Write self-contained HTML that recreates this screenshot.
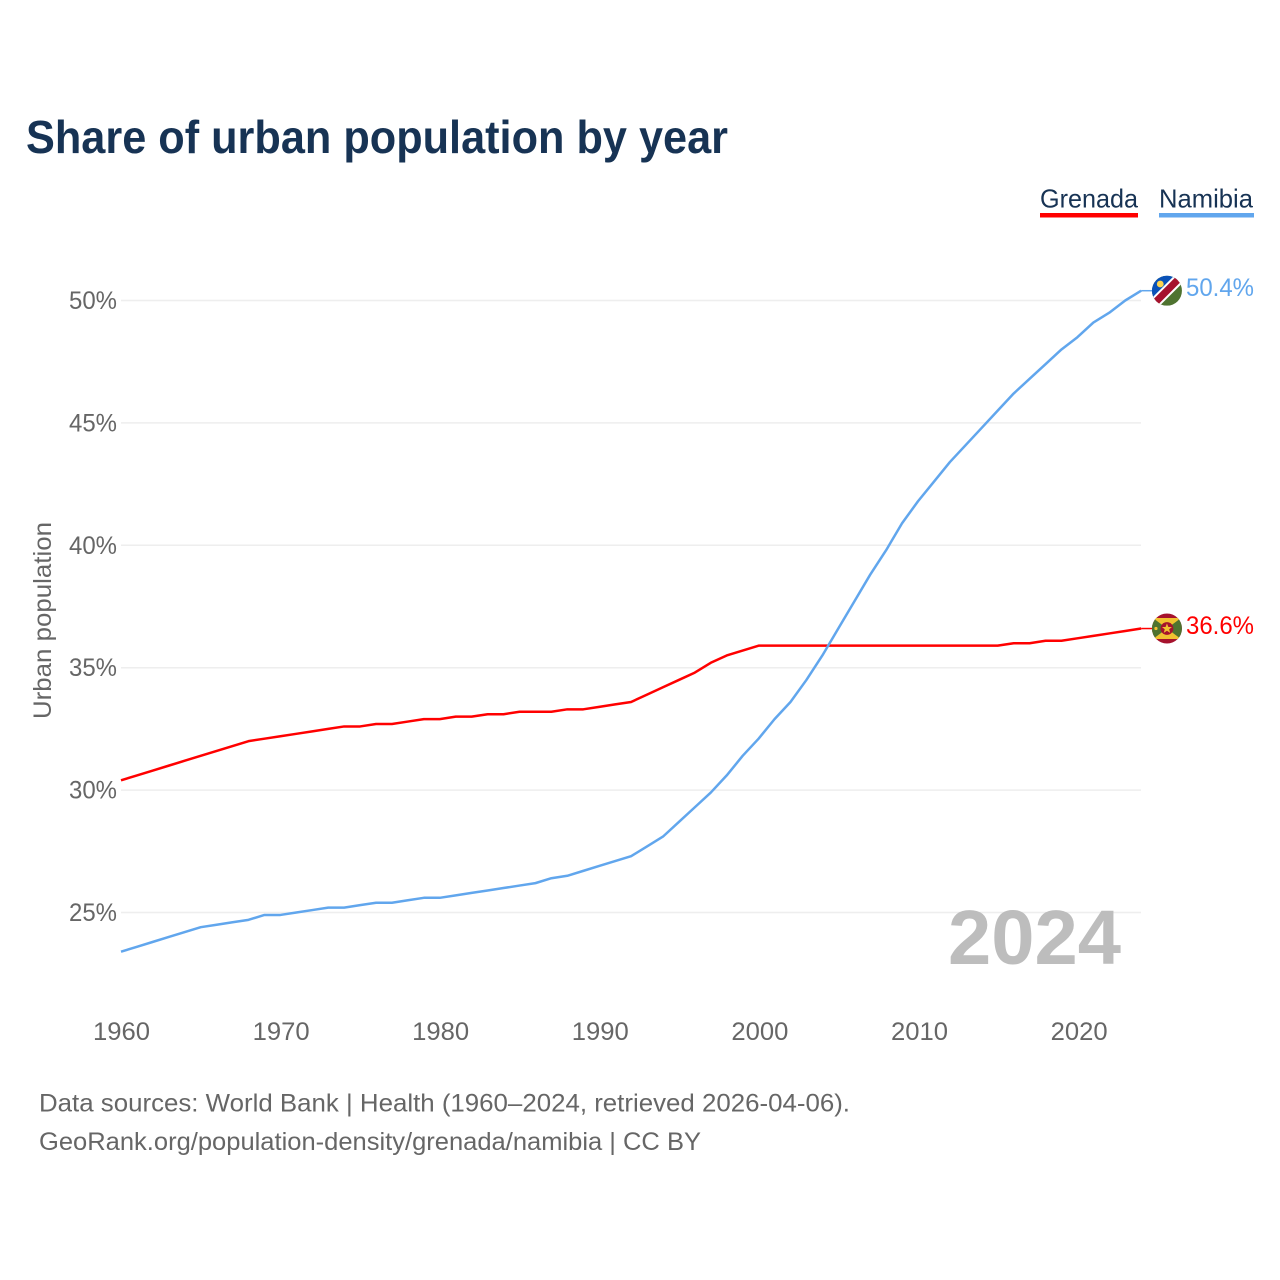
<!DOCTYPE html>
<html lang="en">
<head>
<meta charset="utf-8">
<title>Share of urban population by year</title>
<style>
html,body{margin:0;padding:0;background:#fff;}
body{width:1280px;height:1280px;overflow:hidden;}
svg{display:block;font-family:"Liberation Sans",sans-serif;}
</style>
</head>
<body>
<svg id="chart" xmlns="http://www.w3.org/2000/svg" width="1280" height="1280" viewBox="0 0 1280 1280">
  <defs>
    <clipPath id="clip-flag"><circle cx="0" cy="0" r="15"/></clipPath>
  </defs>
  <rect width="1280" height="1280" fill="#fff"/>
  <text x="26" y="153" font-size="46" font-weight="700" fill="#173354" textLength="702" lengthAdjust="spacingAndGlyphs">Share of urban population by year</text>

  <g>
    <g>
      <text x="1040" y="207.5" font-size="26" fill="#173354" textLength="98" lengthAdjust="spacingAndGlyphs">Grenada</text>
      <rect x="1040" y="213" width="98" height="4.5" fill="#ff0000"/>
    </g>
    <g>
      <text x="1159" y="207.5" font-size="26" fill="#173354" textLength="94" lengthAdjust="spacingAndGlyphs">Namibia</text>
      <rect x="1159" y="213" width="95" height="4.5" fill="#61a6ed"/>
    </g>
  </g>

  <g id="grid"></g>
  <g id="y-labels"></g>
  <g id="x-labels"></g>

  <text transform="translate(51,620.5) rotate(-90)" text-anchor="middle" font-size="25" fill="#666" textLength="197" lengthAdjust="spacingAndGlyphs">Urban population</text>

  <text id="year-watermark" x="948" y="964" font-size="77" font-weight="700" fill="#bdbdbd" textLength="173" lengthAdjust="spacingAndGlyphs">2024</text>

  <g id="series"></g>
  <g id="end-markers"></g>

  <g>
    <text x="39" y="1111.5" font-size="25" fill="#666" textLength="811" lengthAdjust="spacingAndGlyphs">Data sources: World Bank | Health (1960–2024, retrieved 2026-04-06).</text>
    <text x="39" y="1150" font-size="25" fill="#666" textLength="662" lengthAdjust="spacingAndGlyphs">GeoRank.org/population-density/grenada/namibia | CC BY</text>
  </g>
</svg>

<script>
const startYear = 1960;
const xTickYears = [1960, 1970, 1980, 1990, 2000, 2010, 2020];
const yTickValues = [25, 30, 35, 40, 45, 50];
const grenadaValues = [
  30.4, 30.6, 30.8, 31.0, 31.2, 31.4, 31.6, 31.8, 32.0, 32.1,
  32.2, 32.3, 32.4, 32.5, 32.6, 32.6, 32.7, 32.7, 32.8, 32.9,
  32.9, 33.0, 33.0, 33.1, 33.1, 33.2, 33.2, 33.2, 33.3, 33.3,
  33.4, 33.5, 33.6, 33.9, 34.2, 34.5, 34.8, 35.2, 35.5, 35.7,
  35.9, 35.9, 35.9, 35.9, 35.9, 35.9, 35.9, 35.9, 35.9, 35.9,
  35.9, 35.9, 35.9, 35.9, 35.9, 35.9, 36.0, 36.0, 36.1, 36.1,
  36.2, 36.3, 36.4, 36.5, 36.6
];
const namibiaValues = [
  23.4, 23.6, 23.8, 24.0, 24.2, 24.4, 24.5, 24.6, 24.7, 24.9,
  24.9, 25.0, 25.1, 25.2, 25.2, 25.3, 25.4, 25.4, 25.5, 25.6,
  25.6, 25.7, 25.8, 25.9, 26.0, 26.1, 26.2, 26.4, 26.5, 26.7,
  26.9, 27.1, 27.3, 27.7, 28.1, 28.7, 29.3, 29.9, 30.6, 31.4,
  32.1, 32.9, 33.6, 34.5, 35.5, 36.6, 37.7, 38.8, 39.8, 40.9,
  41.8, 42.6, 43.4, 44.1, 44.8, 45.5, 46.2, 46.8, 47.4, 48.0,
  48.5, 49.1, 49.5, 50.0, 50.4
];

const SVG_NS = 'http://www.w3.org/2000/svg';
function xScale(year) { return 121 + (year - 1960) * 15.94; }
function xLabelScale(year) { return 121.5 + (year - 1960) * 15.96; }
function yScale(value) { return 912.5 - (value - 25) * 24.48; }
function make(tag, attrs, parent) {
  const el = document.createElementNS(SVG_NS, tag);
  for (const k in attrs) el.setAttribute(k, attrs[k]);
  parent.appendChild(el);
  return el;
}

const grid = document.getElementById('grid');
const yLabels = document.getElementById('y-labels');
yTickValues.forEach(function (v) {
  const line = make('line', { x1: 121, x2: 1141, y1: yScale(v), y2: yScale(v), stroke: '#eeeeee', 'stroke-width': 1.5 }, grid);
  
  
  const label = make('text', { x: 117, y: yScale(v) + 8.5, 'text-anchor': 'end', 'font-size': 25, fill: '#666', textLength: 48, lengthAdjust: 'spacingAndGlyphs' }, yLabels);
  
  
  label.textContent = v + '%';
});

const xLabels = document.getElementById('x-labels');
xTickYears.forEach(function (y) {
  const label = make('text', { x: xLabelScale(y), y: 1040, 'text-anchor': 'middle', 'font-size': 25, fill: '#666', textLength: 57, lengthAdjust: 'spacingAndGlyphs' }, xLabels);
  
  
  label.textContent = y;
});

function linePath(values) {
  return values.map(function (v, i) {
    return (i ? 'L' : 'M') + xScale(startYear + i).toFixed(2) + ' ' + yScale(v).toFixed(2);
  }).join(' ');
}

const seriesGroup = document.getElementById('series');
const grenadaLine = make('path', { d: linePath(grenadaValues), fill: 'none', stroke: '#ff0000', 'stroke-width': 2.5, 'stroke-linejoin': 'round' }, seriesGroup);


const namibiaLine = make('path', { d: linePath(namibiaValues), fill: 'none', stroke: '#61a6ed', 'stroke-width': 2.5, 'stroke-linejoin': 'round' }, seriesGroup);



const markers = document.getElementById('end-markers');
const lastX = xScale(startYear + grenadaValues.length - 1);
const flagX = lastX + 25.8;

/* Namibia connector, flag and value */
const namibiaY = yScale(namibiaValues[namibiaValues.length - 1]);
const nLink = make('line', { x1: lastX, x2: flagX - 14, y1: namibiaY, y2: namibiaY, stroke: '#61a6ed', 'stroke-width': 1.5 }, markers);


const nFlag = make('g', { transform: 'translate(' + flagX + ',' + namibiaY + ')' }, markers);


const nClip = make('g', { 'clip-path': 'url(#clip-flag)' }, nFlag);
make('rect', { x: -15, y: -15, width: 30, height: 30, fill: '#4f7330' }, nClip);
make('polygon', { points: '-20,-20 20,-20 -20,20', fill: '#0a52b8' }, nClip);
make('polygon', { points: '20,-12.2 -12.2,20 -20,12.2 12.2,-20', fill: '#ffffff' }, nClip);
make('polygon', { points: '20,-15 -15,20 -20,15 15,-20', fill: '#a6122d' }, nClip);
make('circle', { cx: -6.7, cy: -6.7, r: 3.4, fill: '#fdd44f' }, nClip);
const nValue = make('text', { x: 1254, y: namibiaY + 5.5, 'text-anchor': 'end', 'font-size': 25, fill: '#61a6ed', textLength: 68, lengthAdjust: 'spacingAndGlyphs' }, markers);


nValue.textContent = namibiaValues[namibiaValues.length - 1].toFixed(1) + '%';

/* Grenada connector, flag and value */
const grenadaY = yScale(grenadaValues[grenadaValues.length - 1]);
const gLink = make('line', { x1: lastX, x2: flagX - 14, y1: grenadaY, y2: grenadaY, stroke: '#ff0000', 'stroke-width': 1.5 }, markers);


const gFlag = make('g', { transform: 'translate(' + flagX + ',' + grenadaY + ')' }, markers);


const gClip = make('g', { 'clip-path': 'url(#clip-flag)' }, gFlag);
make('rect', { x: -15, y: -15, width: 30, height: 30, fill: '#a6122d' }, gClip);
make('rect', { x: -15, y: -10.5, width: 30, height: 21, fill: '#4f7330' }, gClip);
make('polygon', { points: '-14,-10.5 14,-10.5 0,0', fill: '#f2c230' }, gClip);
make('polygon', { points: '-14,10.5 14,10.5 0,0', fill: '#f2c230' }, gClip);
make('circle', { cx: 0, cy: 0, r: 6.4, fill: '#a6122d' }, gClip);
make('polygon', { points: '0,-5 1.4,-1.5 5,-1.5 2.2,0.7 3.2,4.3 0,2.2 -3.2,4.3 -2.2,0.7 -5,-1.5 -1.4,-1.5', fill: '#f2c230' }, gClip);
make('circle', { cx: -11, cy: 0, r: 1.6, fill: '#f2c230' }, gClip);
const gValue = make('text', { x: 1254, y: grenadaY + 5.5, 'text-anchor': 'end', 'font-size': 25, fill: '#ff0000', textLength: 68, lengthAdjust: 'spacingAndGlyphs' }, markers);


gValue.textContent = grenadaValues[grenadaValues.length - 1].toFixed(1) + '%';
</script>
</body>
</html>
